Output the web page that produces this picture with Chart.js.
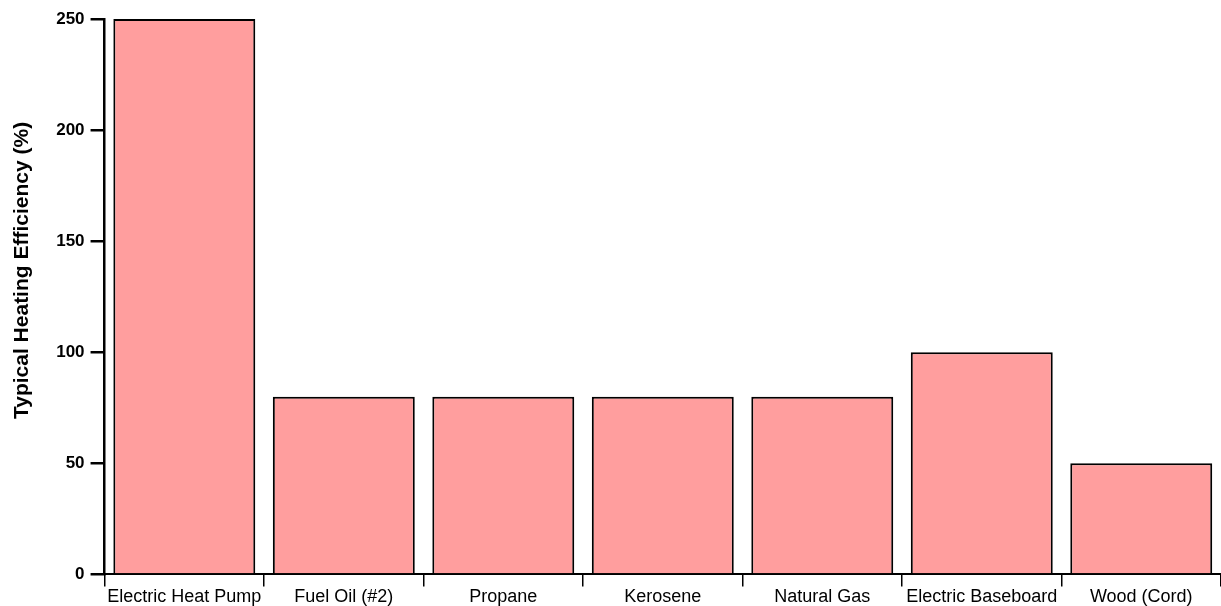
<!DOCTYPE html>
<html>
<head>
<meta charset="utf-8">
<script src="https://cdn.jsdelivr.net/npm/chart.js@4"></script>
<style>
  body { margin: 0; background: #fff; }
  #wrap { width: 1221px; height: 606px; position: relative; }
</style>
</head>
<body>
<div id="wrap"><canvas id="bargraph"></canvas></div>
<script>
var categories = ["Electric Heat Pump", "Fuel Oil (#2)", "Propane", "Kerosene", "Natural Gas", "Electric Baseboard", "Wood (Cord)"];
var efficiency = [250, 80, 80, 80, 80, 100, 50];
var yTicks = [0, 50, 100, 150, 200, 250];

// leading spaces nudge the rotated title upward, as in the original
var yTitle = '\u00a0'.repeat(9) + 'Typical Heating Efficiency (%)';

document.addEventListener("DOMContentLoaded", function () {
  var ctx = document.getElementById('bargraph').getContext('2d');
  window.myBar = new Chart(ctx, {
    type: 'bar',
    data: {
      labels: categories,
      datasets: [{
        label: "Typical Heating Efficiency",
        backgroundColor: 'rgb(255, 158, 158)',
        borderColor: '#000',
        borderWidth: 2,
        barPercentage: 0.89,
        categoryPercentage: 1.0,
        data: efficiency
      }]
    },
    options: {
      responsive: true,
      maintainAspectRatio: false,
      animation: false,
      layout: { padding: { top: 19, right: 0, left: 10, bottom: -2 } },
      plugins: {
        legend: { display: false },
        tooltip: { enabled: false }
      },
      scales: {
        x: {
          grid: {
            offset: true,
            drawOnChartArea: false,
            drawTicks: true,
            tickLength: 12,
            color: '#000',
            lineWidth: 1.5
          },
          border: { display: true, color: '#000', width: 2 },
          ticks: {
            color: '#000',
            font: { family: 'Liberation Sans, Arial', size: 18 },
            padding: 0,
            maxRotation: 0,
            autoSkip: false
          }
        },
        y: {
          min: 0,
          max: 250,
          afterBuildTicks: function (axis) {
            axis.ticks = yTicks.map(function (v) { return { value: v }; });
          },
          grid: {
            drawOnChartArea: false,
            drawTicks: true,
            tickLength: 14,
            color: '#000',
            lineWidth: 2.5
          },
          border: { display: true, color: '#000', width: 2.5 },
          ticks: {
            color: '#000',
            font: { family: 'Liberation Sans, Arial', size: 17, weight: 'bold' },
            padding: 6
          },
          title: {
            display: true,
            text: yTitle,
            color: '#000',
            font: { family: 'Liberation Sans, Arial', size: 21, weight: 'bold' },
            padding: { top: 0, bottom: 15 }
          }
        }
      }
    }
  });
});
</script>
</body>
</html>
